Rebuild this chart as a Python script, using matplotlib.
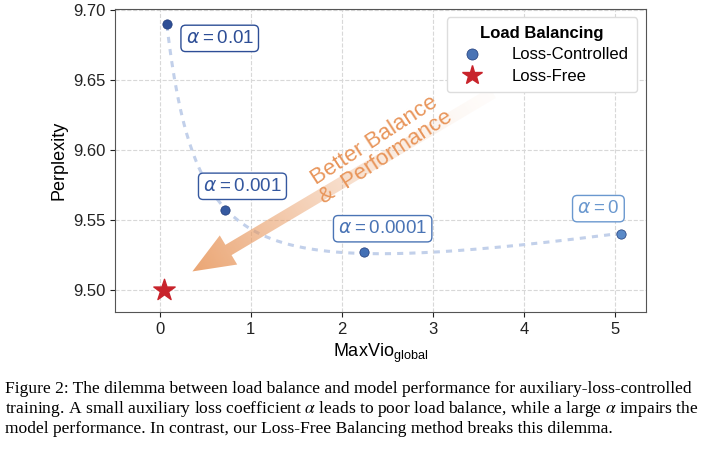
import numpy as np
import matplotlib
matplotlib.use("Agg")
import matplotlib.pyplot as plt
from matplotlib.lines import Line2D
from matplotlib.patches import Polygon

maxvio = [0.08, 0.72, 2.25, 5.07]
ppl = [9.690, 9.557, 9.527, 9.540]
labels = ["0.01", "0.001", "0.0001", "0"]
free_x, free_y = [0.05], [9.500]
pt_colors = ["#2D4E96", "#3559A0", "#4470B5", "#5A8AC8"]
txt_colors = ["#2D4E96", "#35589F", "#4A74B5", "#6A98CF"]
label_pos = [(0.66, 9.680), (0.91, 9.574), (2.45, 9.5436), (4.82, 9.558)]

plt.rcParams['font.family'] = ['Liberation Sans', 'DejaVu Sans']
plt.rcParams['mathtext.fontset'] = 'custom'
plt.rcParams['mathtext.rm'] = 'Liberation Sans'
plt.rcParams['mathtext.it'] = 'DejaVu Sans:italic'
fig = plt.figure(figsize=(7.28, 4.54), dpi=100)
ax = fig.add_axes([0.158, 0.313, 0.729, 0.667])
ax.set_xlim(-0.49, 5.34)
ax.set_ylim(9.484, 9.701)
ax.set_xticks([0, 1, 2, 3, 4, 5])
ax.set_yticks([9.50, 9.55, 9.60, 9.65, 9.70])
ax.set_yticklabels(["9.50", "9.55", "9.60", "9.65", "9.70"])
ax.grid(True, ls='--', color='#d8d8d8', lw=0.8)
ax.set_axisbelow(True)
for s in ax.spines.values():
    s.set_color('#555555')
ax.tick_params(labelsize=12, colors='#222222')
ax.set_ylabel("Perplexity", fontsize=13)
ax.set_xlabel(r"MaxVio$_{\mathrm{global}}$", fontsize=13)

X = np.array(maxvio); Y = np.array(ppl)
A = np.vstack([np.ones_like(X), 1/(X+0.3), X]).T
coef = np.linalg.lstsq(A, Y, rcond=None)[0]
xs = np.linspace(X[0], X[-1], 300)
ys = coef[0] + coef[1]/(xs+0.3) + coef[2]*xs
ax.plot(xs, ys, ls=(0, (2, 2)), color='#c2d0ea', lw=2.2, zorder=2)

for x, y, c in zip(maxvio, ppl, pt_colors):
    ax.scatter(x, y, s=45, color=c, edgecolor='#1f3a78', lw=0.5, zorder=4)
ax.scatter(free_x, free_y, marker='*', s=260, color='#C8232B', zorder=4)

for (lx, ly), lab, tc in zip(label_pos, labels, txt_colors):
    ax.text(lx, ly, r"$\alpha = \mathrm{%s}$" % lab, fontsize=13.5, color=tc, ha='center', va='center',
            bbox=dict(boxstyle='round,pad=0.25', fc='white', ec=tc, lw=1.0), zorder=5)

x0, y0, x1, y1 = 3.66, 9.641, 0.36, 9.513
sx = 91.0; sy = 1400.0
dx, dy = (x1-x0)*sx, (y1-y0)*sy
L = np.hypot(dx, dy); ux, uy = dx/L, dy/L; nx, ny = -uy, ux
w, hw, hl = 6, 17, 42
pts = [(0, -w), (L-hl, -w), (L-hl, -hw), (L, 0), (L-hl, hw), (L-hl, w), (0, w)]
poly = [(x0 + (a*ux + b*nx)/sx, y0 + (a*uy + b*ny)/sy) for a, b in pts]
patch = Polygon(poly, closed=True, fc='none', ec='none')
ax.add_patch(patch)
gx = np.linspace(-0.49, 5.34, 300); gy = np.linspace(9.484, 9.701, 200)
GX, GY = np.meshgrid(gx, gy)
t = (((GX-x0)*sx)*ux + ((GY-y0)*sy)*uy)/L
t = np.clip(t, 0, 1)
img = np.zeros(GX.shape + (4,))
img[..., 0] = 0.91; img[..., 1] = 0.60; img[..., 2] = 0.38
img[..., 3] = 0.03 + 0.85*t**1.5
im = ax.imshow(img, extent=(-0.49, 5.34, 9.484, 9.701), origin='lower', aspect='auto', zorder=3)
im.set_clip_path(patch)
ax.set_xlim(-0.49, 5.34); ax.set_ylim(9.484, 9.701)

ax.text(2.42, 9.601, "Better Balance\n&  Performance", fontsize=16, color='#E8955A',
        rotation=33, ha='center', va='center', linespacing=0.95, zorder=6)

h1 = Line2D([], [], marker='o', ls='', color='#4A74B5', markeredgecolor='#1f3a78', markeredgewidth=0.5, markersize=8)
h2 = Line2D([], [], marker='*', ls='', color='#C8232B', markersize=15)
ax.legend([h1, h2], ["Loss-Controlled", "Loss-Free"], title="Load Balancing", loc='upper right',
          fontsize=12, title_fontproperties={'weight': 'bold', 'size': 12},
          framealpha=1, edgecolor='#dddddd', handletextpad=1.4, borderpad=0.5, labelspacing=0.4)

cap = ("Figure 2: The dilemma between load balance and model performance for auxiliary-loss-controlled\n"
       "training. A small auxiliary loss coefficient $\\alpha$ leads to poor load balance, while a large $\\alpha$ impairs the\n"
       "model performance. In contrast, our Loss-Free Balancing method breaks this dilemma.")
fig.text(0.007, 0.10, cap, fontsize=12.6, family='Liberation Serif', va='center', ha='left',
         linespacing=1.15, math_fontfamily='stix')
fig.savefig("out.png", dpi=100)
